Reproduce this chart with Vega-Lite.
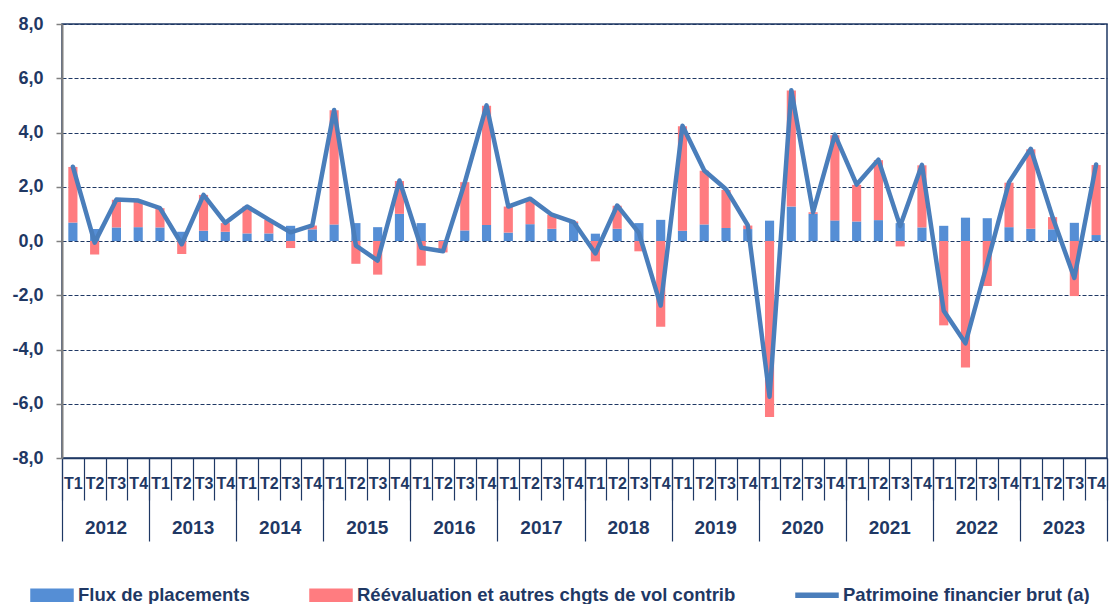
{
  "$schema": "https://vega.github.io/schema/vega-lite/v6.json",
  "autosize": "none",
  "width": 1045,
  "height": 434,
  "padding": {"left": 62, "top": 24, "right": 2, "bottom": 146},
  "background": "white",
  "config": {"font": "Liberation Sans", "view": {"stroke": "#1F3864", "strokeWidth": 1.5}},
  "data": {"values": [
    {"q": "2012T1", "year": "2012", "flux": 0.68, "reev": 2.05, "pat": 2.74},
    {"q": "2012T2", "year": "2012", "flux": 0.44, "reev": -0.50, "pat": -0.06},
    {"q": "2012T3", "year": "2012", "flux": 0.50, "reev": 1.02, "pat": 1.53},
    {"q": "2012T4", "year": "2012", "flux": 0.51, "reev": 0.98, "pat": 1.49},
    {"q": "2013T1", "year": "2013", "flux": 0.50, "reev": 0.71, "pat": 1.21},
    {"q": "2013T2", "year": "2013", "flux": 0.34, "reev": -0.48, "pat": -0.12},
    {"q": "2013T3", "year": "2013", "flux": 0.38, "reev": 1.32, "pat": 1.70},
    {"q": "2013T4", "year": "2013", "flux": 0.34, "reev": 0.32, "pat": 0.67},
    {"q": "2014T1", "year": "2014", "flux": 0.28, "reev": 0.99, "pat": 1.27},
    {"q": "2014T2", "year": "2014", "flux": 0.28, "reev": 0.50, "pat": 0.79},
    {"q": "2014T3", "year": "2014", "flux": 0.56, "reev": -0.26, "pat": 0.32},
    {"q": "2014T4", "year": "2014", "flux": 0.43, "reev": 0.14, "pat": 0.58},
    {"q": "2015T1", "year": "2015", "flux": 0.61, "reev": 4.21, "pat": 4.83},
    {"q": "2015T2", "year": "2015", "flux": 0.66, "reev": -0.84, "pat": -0.17},
    {"q": "2015T3", "year": "2015", "flux": 0.51, "reev": -1.24, "pat": -0.72},
    {"q": "2015T4", "year": "2015", "flux": 1.00, "reev": 1.21, "pat": 2.23},
    {"q": "2016T1", "year": "2016", "flux": 0.66, "reev": -0.91, "pat": -0.25},
    {"q": "2016T2", "year": "2016", "flux": 0.03, "reev": -0.42, "pat": -0.38},
    {"q": "2016T3", "year": "2016", "flux": 0.39, "reev": 1.78, "pat": 2.15},
    {"q": "2016T4", "year": "2016", "flux": 0.59, "reev": 4.40, "pat": 5.00},
    {"q": "2017T1", "year": "2017", "flux": 0.31, "reev": 0.96, "pat": 1.27},
    {"q": "2017T2", "year": "2017", "flux": 0.62, "reev": 0.92, "pat": 1.56},
    {"q": "2017T3", "year": "2017", "flux": 0.45, "reev": 0.52, "pat": 0.97},
    {"q": "2017T4", "year": "2017", "flux": 0.66, "reev": 0.06, "pat": 0.70},
    {"q": "2018T1", "year": "2018", "flux": 0.27, "reev": -0.75, "pat": -0.46},
    {"q": "2018T2", "year": "2018", "flux": 0.45, "reev": 0.85, "pat": 1.31},
    {"q": "2018T3", "year": "2018", "flux": 0.66, "reev": -0.38, "pat": 0.30},
    {"q": "2018T4", "year": "2018", "flux": 0.78, "reev": -3.16, "pat": -2.38},
    {"q": "2019T1", "year": "2019", "flux": 0.38, "reev": 3.85, "pat": 4.25},
    {"q": "2019T2", "year": "2019", "flux": 0.61, "reev": 1.98, "pat": 2.60},
    {"q": "2019T3", "year": "2019", "flux": 0.48, "reev": 1.40, "pat": 1.91},
    {"q": "2019T4", "year": "2019", "flux": 0.44, "reev": 0.13, "pat": 0.58},
    {"q": "2020T1", "year": "2020", "flux": 0.75, "reev": -6.49, "pat": -5.74},
    {"q": "2020T2", "year": "2020", "flux": 1.27, "reev": 4.28, "pat": 5.56},
    {"q": "2020T3", "year": "2020", "flux": 1.00, "reev": 0.06, "pat": 1.06},
    {"q": "2020T4", "year": "2020", "flux": 0.76, "reev": 3.14, "pat": 3.92},
    {"q": "2021T1", "year": "2021", "flux": 0.72, "reev": 1.35, "pat": 2.08},
    {"q": "2021T2", "year": "2021", "flux": 0.77, "reev": 2.21, "pat": 3.00},
    {"q": "2021T3", "year": "2021", "flux": 0.66, "reev": -0.20, "pat": 0.55},
    {"q": "2021T4", "year": "2021", "flux": 0.50, "reev": 2.29, "pat": 2.81},
    {"q": "2022T1", "year": "2022", "flux": 0.56, "reev": -3.11, "pat": -2.57},
    {"q": "2022T2", "year": "2022", "flux": 0.86, "reev": -4.66, "pat": -3.77},
    {"q": "2022T3", "year": "2022", "flux": 0.84, "reev": -1.66, "pat": -0.82},
    {"q": "2022T4", "year": "2022", "flux": 0.51, "reev": 1.64, "pat": 2.17},
    {"q": "2023T1", "year": "2023", "flux": 0.45, "reev": 2.93, "pat": 3.40},
    {"q": "2023T2", "year": "2023", "flux": 0.43, "reev": 0.45, "pat": 0.88},
    {"q": "2023T3", "year": "2023", "flux": 0.67, "reev": -2.03, "pat": -1.36},
    {"q": "2023T4", "year": "2023", "flux": 0.22, "reev": 2.58, "pat": 2.82}
  ]},
  "layer": [
    {
      "layer": [
        {
          "transform": [{"fold": ["flux", "reev"], "as": ["serie", "val"]}],
          "mark": {"type": "bar", "width": {"band": 0.42}},
          "encoding": {
            "x": {
              "field": "q", "type": "nominal", "sort": null,
              "scale": {"paddingInner": 0, "paddingOuter": 0},
              "axis": {
                "title": null, "labelExpr": "substring(datum.label, 4)", "labelAngle": 0,
                "labelFont": "Liberation Sans", "labelFontSize": 16, "labelFontWeight": "bold",
                "labelColor": "#1F3864", "labelBaseline": "middle", "labelPadding": -17,
                "tickSize": 42, "tickColor": "#1F3864", "tickWidth": 1.2, "tickBand": "extent",
                "domainColor": "#1F3864", "domainWidth": 1.5,
                "labelOverlap": false, "labelBound": false, "labelFlush": false, "grid": false
              }
            },
            "y": {
              "field": "val", "type": "quantitative", "stack": "zero",
              "scale": {"domain": [-8, 8], "nice": false},
              "axis": {
                "title": null, "values": [-8, -6, -4, -2, 0, 2, 4, 6, 8],
                "labelExpr": "(datum.value < 0 ? '-' : '') + replace(format(abs(datum.value), '.1f'), '.', ',')",
                "labelFont": "Liberation Sans", "labelFontSize": 18, "labelFontWeight": "bold",
                "labelColor": "#1F3864", "labelPadding": 13,
                "tickSize": 6, "tickColor": "#808080", "tickWidth": 1.5,
                "domainColor": "#808080", "domainWidth": 2,
                "grid": true, "gridColor": "#1F3864", "gridDash": [4, 2], "gridWidth": 1.2
              }
            },
            "order": {"field": "serie", "sort": "ascending"},
            "color": {
              "field": "serie", "type": "nominal",
              "scale": {"domain": ["flux", "reev", "patrimoine"], "range": ["#558ED5", "#FF7C80", "#4A7EBB"]},
              "legend": {
                "orient": "none", "legendX": -32, "legendY": 549, "direction": "horizontal", "title": null,
                "labelExpr": "datum.value == 'flux' ? 'Flux de placements' : datum.value == 'reev' ? 'Réévaluation et autres chgts de vol contrib' : 'Patrimoine financier brut (a)'",
                "labelFont": "Liberation Sans", "labelFontSize": 18.5, "labelFontWeight": "bold",
                "labelColor": "#1F3864", "labelLimit": 0, "labelOffset": 4,
                "symbolSize": 1764, "columnPadding": 57, "padding": 0,
                "symbolType": "M-1,-0.29H1V0.29H-1Z",
                "encode": {
                  "symbols": {
                    "update": {
                      "shape": {"signal": "datum.value == 'patrimoine' ? 'M-1,-0.1H1V0.1H-1Z' : 'M-1,-0.29H1V0.29H-1Z'"},
                      "fill": {"signal": "scale('color', datum.value)"},
                      "stroke": {"value": "transparent"},
                      "opacity": {"value": 1}
                    }
                  }
                }
              }
            }
          }
        },
        {
          "mark": {"type": "line", "strokeWidth": 4.5, "strokeCap": "round", "strokeJoin": "round"},
          "encoding": {
            "x": {"field": "q", "type": "nominal", "sort": null},
            "y": {"field": "pat", "type": "quantitative"},
            "color": {"datum": "patrimoine"}
          }
        }
      ]
    },
    {
      "mark": {"type": "point", "opacity": 0},
      "encoding": {
        "x": {
          "field": "year", "type": "nominal",
          "scale": {"type": "band", "paddingInner": 0, "paddingOuter": 0},
          "axis": {
            "title": null, "orient": "bottom", "labelAngle": 0, "domain": false, "grid": false,
            "tickSize": 83, "tickBand": "extent", "tickColor": "#1F3864", "tickWidth": 1.2,
            "labelFont": "Liberation Sans", "labelFontSize": 19, "labelFontWeight": "bold",
            "labelColor": "#1F3864", "labelBaseline": "middle", "labelPadding": -14,
            "labelOverlap": false, "labelBound": false, "labelFlush": false
          }
        }
      }
    }
  ],
  "resolve": {"scale": {"x": "independent"}, "axis": {"x": "independent"}}
}
